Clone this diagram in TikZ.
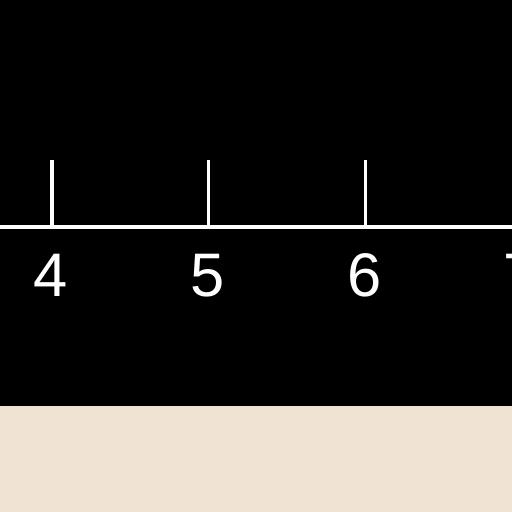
\documentclass[tikz,border=0pt]{standalone}
\usepackage{fontspec}
\setmainfont{Liberation Sans}
\definecolor{paper}{RGB}{241,227,211}
\begin{document}
\begin{tikzpicture}[x=1cm, y=1cm]
      \pgfmathsetmacro{\step}{1.568}
      \pgfmathsetmacro{\first}{0.52}
      
      \useasboundingbox (0, 0) rectangle (5.12, 5.12);
      \fill[paper] (0, 0) rectangle (5.12, 1.07);
      \fill[black] (0, 1.06) rectangle (5.12, 5.12);
      
      \draw[white, line width=1.3pt] (0, 2.85) -- (5.12, 2.85);
      
      \foreach \n [count=\i from 0] in {4, 5, 6, 7} {
        \coordinate (base\n) at ({\first + \i*\step}, 2.85);
        \draw[white, line width=0.9pt] (base\n) -- ++(0, 0.67);
        \node[white, inner sep=0pt, font=\fontsize{17.5}{20}\selectfont] (lab\n) at ({\first - 0.015 + \i*\step}, 2.365) {\n};
      }
    \end{tikzpicture}
\end{document}
